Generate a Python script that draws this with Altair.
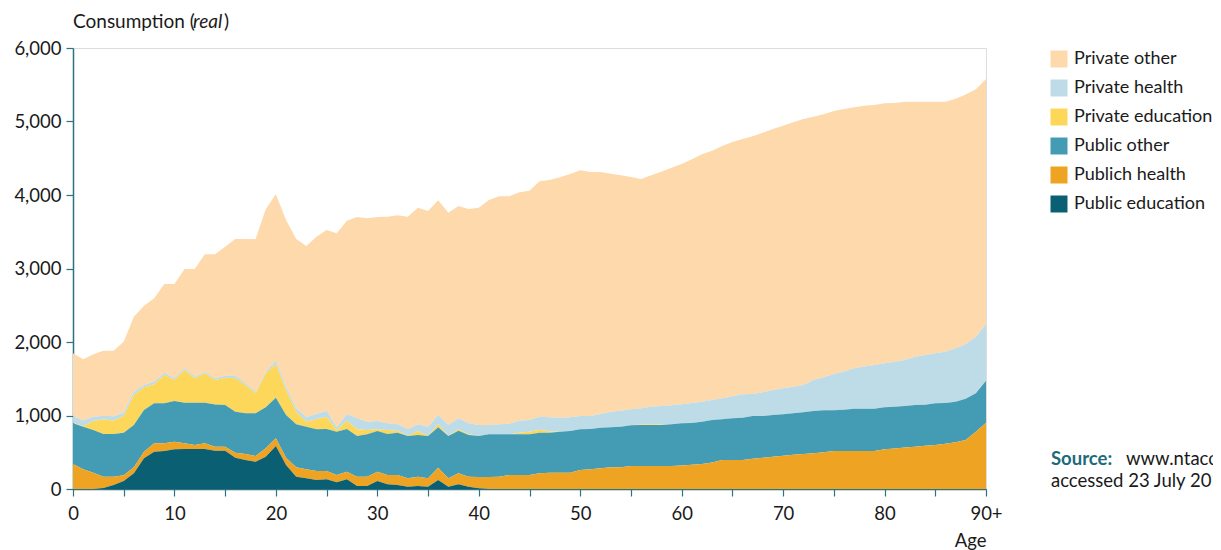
import altair as alt
import pandas as pd

ages = list(range(91))

series_names = ["Private other", "Private health", "Private education",
                "Public other", "Publich health", "Public education"]
series_colors = ["#FDD9AB", "#BEDBE8", "#FDD75A", "#449BB4", "#EFA322", "#0B5F73"]
stack_order = [5, 4, 3, 2, 1, 0]

public_education = [0, 0, 0, 15, 54, 109, 213, 417, 508, 517,
                    540, 544, 544, 544, 522, 522, 426, 395, 372, 440,
                    585, 327, 168, 145, 122, 132, 91, 132, 41, 41,
                    109, 63, 54, 32, 41, 32, 122, 32, 63, 32,
                    10] + [0] * 50

public_health = [340, 268, 222, 153, 114, 77, 82, 91, 113, 104,
                 104, 77, 55, 77, 54, 54, 68, 81, 77, 113,
                 104, 99, 127, 123, 123, 113, 99, 104, 127, 127,
                 127, 127, 136, 113, 127, 113, 168, 113, 150, 136,
                 153, 163, 168, 190, 190, 190, 213, 222, 222, 222,
                 259, 268, 281, 295, 295, 313, 313, 313, 313, 313,
                 320, 330, 340, 360, 395, 395, 395, 410, 426, 440,
                 454, 465, 476, 488, 499, 517, 517, 517, 517, 517,
                 540, 552, 564, 576, 588, 599, 617, 635, 667, 780,
                 902]

public_other = [553, 580, 581, 580, 580, 581, 576, 567, 545, 545,
                553, 554, 576, 554, 572, 567, 558, 554, 581, 558,
                554, 581, 585, 580, 567, 571, 590, 580, 553, 576,
                553, 558, 577, 576, 567, 576, 549, 576, 581, 567,
                558, 581, 576, 554, 554, 554, 554, 545, 558, 567,
                553, 548, 553, 544, 553, 553, 558, 558, 558, 567,
                573, 568, 576, 579, 553, 566, 575, 583, 567, 567,
                562, 565, 567, 573, 571, 553, 562, 576, 576, 576,
                571, 568, 565, 567, 559, 567, 553, 553, 562, 522,
                572]

private_education = [10, 10, 122, 200, 182, 226, 408, 308, 258, 385,
                     286, 444, 331, 399, 335, 372, 454, 385, 272, 463,
                     453, 340, 172, 68, 136, 168, 23, 114, 91, 59,
                     23, 55, 27, 5, 54, 5, 41, 5, 18, 9,
                     0, 0, 0, 0, 20, 35, 40, 15, 0, 0,
                     0, 0, 0, 0, 0, 0, 5, 10, 5, 0] + [0] * 31

private_health = [91, 73, 59, 50, 59, 46, 45, 32, 36, 32,
                  23, 23, 22, 20, 23, 27, 36, 23, 22, 22,
                  50, 45, 46, 59, 72, 82, 36, 90, 149, 113,
                  113, 90, 86, 90, 91, 122, 127, 145, 149, 149,
                  150, 127, 136, 145, 166, 160, 177, 193, 190, 186,
                  181, 177, 186, 213, 218, 218, 222, 239, 253, 258,
                  259, 272, 272, 272, 286, 300, 318, 300, 322, 340,
                  354, 362, 372, 422, 450, 495, 518, 549, 572, 594,
                  599, 613, 626, 658, 676, 680, 699, 726, 744, 771,
                  767]

private_other = [853, 834, 848, 884, 893, 965, 1021, 1079, 1134, 1206,
                 1283, 1351, 1465, 1599, 1687, 1755, 1859, 1963, 2077, 2209,
                 2263, 2268, 2303, 2331, 2413, 2458, 2639, 2631, 2740, 2767,
                 2776, 2812, 2844, 2889, 2947, 2934, 2921, 2889, 2889, 2917,
                 2956, 3061, 3102, 3093, 3106, 3120, 3202, 3229, 3270, 3311,
                 3343, 3320, 3293, 3238, 3202, 3161, 3120, 3148, 3189, 3234,
                 3270, 3315, 3365, 3392, 3433, 3460, 3474, 3505, 3533, 3551,
                 3573, 3597, 3619, 3583, 3578, 3578, 3573, 3551, 3550, 3537,
                 3537, 3519, 3515, 3469, 3447, 3424, 3401, 3397, 3394, 3365,
                 3337]

y_ticks = [0, 1000, 2000, 3000, 4000, 5000, 6000]
x_ticks = list(range(0, 91, 5))

series_values = [private_other, private_health, private_education,
                 public_other, public_health, public_education]

rows = []
for name, order, vals in zip(series_names, stack_order, series_values):
    for a, v in zip(ages, vals):
        rows.append({"age": a, "series": name, "order": order, "value": v})
df = pd.DataFrame(rows)

FONT = "Lato"
AXIS_COLOR = "#2E7282"
TEXT_COLOR = "#1A1A1A"

W, H = 913, 441

areas = alt.Chart(df).mark_area(interpolate="linear", strokeWidth=0).encode(
    x=alt.X("age:Q",
            scale=alt.Scale(domain=[0, 90], nice=False, zero=False),
            axis=alt.Axis(values=x_ticks, title="Age", titleAnchor="end",
                          titleAlign="right", titleFontWeight="normal",
                          titleFont=FONT, titleFontSize=18.5, titleColor=TEXT_COLOR,
                          titlePadding=9,
                          labelExpr="datum.value % 10 == 0 ? (datum.value == 90 ? '90+' : datum.value) : ''",
                          labelFont=FONT, labelFontSize=18.5, labelColor=TEXT_COLOR,
                          labelPadding=8, tickSize=7, tickColor=AXIS_COLOR,
                          domainColor=AXIS_COLOR, domainWidth=1.5, tickWidth=1.2,
                          grid=False, labelFlush=False)),
    y=alt.Y("value:Q", stack="zero",
            scale=alt.Scale(domain=[0, 6000], nice=False),
            axis=alt.Axis(values=y_ticks, format=",.0f", title=None,
                          labelFont=FONT, labelFontSize=18.5, labelColor=TEXT_COLOR,
                          labelPadding=5, tickSize=7, tickColor=AXIS_COLOR,
                          domainColor=AXIS_COLOR, domainWidth=1.5, tickWidth=1.2,
                          grid=False)),
    color=alt.Color("series:N",
                    scale=alt.Scale(domain=series_names, range=series_colors),
                    legend=alt.Legend(title=None, orient="none", legendX=977, legendY=2,
                                      symbolType="square", symbolSize=289,
                                      symbolStrokeWidth=0, symbolOpacity=1,
                                      labelFont=FONT, labelFontSize=18,
                                      labelColor=TEXT_COLOR, labelOffset=6,
                                      rowPadding=11, labelLimit=300)),
    order=alt.Order("order:Q", sort="ascending"),
)

one = pd.DataFrame({"k": [0]})


def label(text, x, y, color=TEXT_COLOR, size=18.5, **kw):
    return alt.Chart(one).mark_text(text=text, align="left", baseline="middle",
                                    font=FONT, fontSize=size, color=color, **kw).encode(
        x=alt.value(x), y=alt.value(y))


title1 = label("Consumption (", 0, -26, size=19)
title2 = label("real", 120, -26, size=19, fontStyle="italic")
title3 = label(")", 151, -26, size=19)
src1 = label("Source:", 978, 411, color="#1D6A7A", fontWeight="bold")
src2 = label("www.ntaccounts.org,", 1053, 411)
src3 = label("accessed 23 July 2012", 978, 433)

chart = alt.layer(areas, title1, title2, title3, src1, src2, src3).properties(
    width=W, height=H,
    autosize=alt.AutoSizeParams(type="none"),
    padding={"left": 65, "top": 40, "right": 227, "bottom": 61},
).configure_view(fill="#FEF1E1", strokeWidth=0).configure(background="white")

chart.save("out.html", embed_options={"renderer": "svg", "actions": False})
